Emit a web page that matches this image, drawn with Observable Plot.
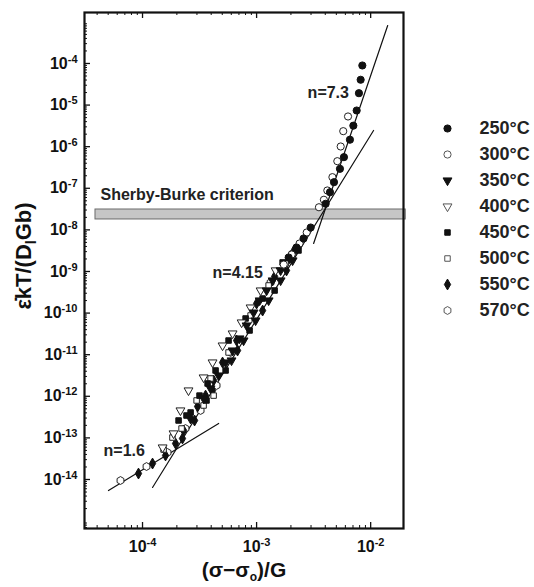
<!DOCTYPE html>
<html><head><meta charset="utf-8">
<script src="https://cdn.jsdelivr.net/npm/d3@7"></script>
<script src="https://cdn.jsdelivr.net/npm/@observablehq/plot@0.6"></script>
<style>
body{margin:0;background:#fff;}
#wrap{position:relative;width:534px;height:587px;font-family:"Liberation Sans",Arial,sans-serif;}
#main{position:absolute;left:0;top:0;}
#legend{position:absolute;left:425px;top:110px;}
</style></head><body>
<div id="wrap"><div id="main"></div><div id="legend"></div></div>
<script>
// ---------- data ----------
const temperatures = ["250°C","300°C","350°C","400°C","450°C","500°C","550°C","570°C"];

// [ (σ-σo)/G , ε̇kT/(D_l G b) ]
const s250 = [[8.45e-3,8.95e-5],[8.17e-3,4.06e-5],[7.89e-3,1.93e-5],[7.54e-3,7.4e-6],[7.05e-3,3.2e-6],
  [6.58e-3,1.47e-6],[5.83e-3,5.6e-7],[5.38e-3,2.94e-7],[4.77e-3,1.40e-7],[4.40e-3,8.05e-8],[4.03e-3,4.24e-8],
  [2.98e-3,1.14e-8],[2.58e-3,6.21e-9],[2.24e-3,3.77e-9],[1.91e-3,2.17e-9]];
const s300 = [[6.33e-3,5.32e-6],[5.75e-3,2.36e-6],[5.46e-3,1.01e-6],[5.10e-3,4.48e-7],[4.62e-3,1.85e-7],
  [4.17e-3,8.85e-8],[3.89e-3,5.3e-8],[3.52e-3,3.5e-8],[2.75e-3,8.66e-9],[2.38e-3,4.71e-9],[2.03e-3,2.56e-9],[1.73e-3,1.47e-9]];
const s350 = [[1.948e-3,2.05e-9],[1.624e-3,1.06e-9],[1.382e-3,6.08e-10],[1.224e-3,3.49e-10],[1.063e-3,2.01e-10],
  [9.41e-4,1.03e-10],[8.17e-4,5.03e-11],[7.09e-4,2.45e-11],[6.16e-4,1.26e-11],[5.35e-4,6.49e-12],[4.64e-4,3.16e-12],
  [3.95e-4,1.54e-12],[3.43e-4,8.86e-13],
  [2.069e-3,1.84e-9],[1.624e-3,6.08e-10],[1.275e-3,2.01e-10],[9.80e-4,6.64e-11],[7.69e-4,2.19e-11],[6.03e-4,7.26e-12]];
const s400 = [[1.468e-3,1.06e-9],[1.084e-3,3.49e-10],[8.86e-4,1.36e-10],[7.39e-4,5.94e-11],[6.16e-4,3.23e-11],
  [5.03e-4,1.66e-11],[4.11e-4,6.49e-12],[3.43e-4,2.83e-12],[2.53e-4,1.38e-12],[2.15e-4,4.56e-13],[1.87e-4,1.28e-13],[1.50e-4,5.88e-14]];
const s450 = [[1.691e-3,1.65e-9],[1.129e-3,2.24e-10],[8.01e-4,7.42e-11],[5.68e-4,2.19e-11],[4.37e-4,4.17e-12],
  [3.72e-4,2.03e-12],[3.16e-4,1.04e-12],[2.64e-4,4.08e-13],[2.43e-4,3.45e-13],[2.07e-4,2.62e-13],
  [2.33e-3,3.20e-9],[1.439e-3,3.49e-10],[8.68e-4,3.82e-11],[5.35e-4,4.17e-12],[3.64e-4,7.93e-13]];
const s500 = [[1.797e-3,1.56e-9],[1.275e-3,4.61e-10],[8.86e-4,8.76e-11],[5.68e-4,1.13e-11],[3.95e-4,2.68e-12],
  [4.20e-4,1.04e-12],[3.43e-4,6.01e-13],[2.98e-4,7.93e-13],[2.20e-4,1.68e-13],[1.83e-4,1.02e-13],[1.53e-4,5.26e-14]];
const s550 = [[9.22e-5,1.39e-14],[1.224e-4,2.42e-14],[1.591e-4,3.78e-14],[1.948e-4,7.33e-14],[2.29e-4,1.51e-13],
  [2.64e-4,2.92e-13],[3.04e-4,5.69e-13],[3.57e-4,1.04e-12],[4.20e-4,2.40e-12],[5.03e-4,6.49e-12],[6.68e-4,2.19e-11],
  [1.0e-3,1.70e-10],[1.439e-3,7.58e-10],[2.154e-3,3.38e-9],
  [1.83e-3,1.06e-9],[1.129e-3,1.15e-10],[6.81e-4,1.26e-11],[4.11e-4,1.38e-12],[2.86e-4,2.62e-13],[2.24e-4,9.68e-14]];
const s570 = [[6.41e-5,9.46e-15],[1.084e-4,2.05e-14],[1.657e-4,4.46e-14],[2.38e-4,1.68e-13],[3.23e-4,4.56e-13],
  [4.46e-4,1.82e-12],[5.92e-4,1.13e-11],[8.51e-4,6.64e-11],[1.327e-3,5.44e-10],[2.069e-3,2.71e-9]];
const seriesData = [s250, s300, s350, s400, s450, s500, s550, s570];

// power-law fit lines (end points)
const fitN16  = [[5.03e-5,5.44e-15],[4.65e-4,2.22e-13]];
const fitN415 = [[1.224e-4,6.43e-15],[1.06e-2,2.45e-6]];
const fitN73  = [[3.16e-3,4.71e-9],[1.41e-2,8.18e-4]];

// Sherby-Burke criterion band
const sherbyBand = [{x1:3.87e-5, x2:2.03e-2, y1:1.78e-8, y2:3.09e-8}];

const annotations = [
  {label:"n=7.3", x:2.80e-3, y:2.01e-5},
  {label:"n=4.15", x:4.11e-4, y:9.46e-10},
  {label:"n=1.6", x:4.55e-5, y:4.98e-14},
  {label:"Sherby-Burke criterion", x:4.28e-5, y:7.10e-8}
];

const xMajorTicks = [1e-4, 1e-3, 1e-2];
const xTickLabels = ["10^-4","10^-3","10^-2"];
const yMajorTicks = [1e-4,1e-5,1e-6,1e-7,1e-8,1e-9,1e-10,1e-11,1e-12,1e-13,1e-14];
const yTickLabels = ["10^-4","10^-5","10^-6","10^-7","10^-8","10^-9","10^-10","10^-11","10^-12","10^-13","10^-14"];

// ---------- styles ----------
const markerStyles = [
  {symbol:"circle",   fill:"#111", stroke:"#111", r:3.6, rotate:0},
  {symbol:"circle",   fill:"#fff", stroke:"#222", r:3.6, rotate:0},
  {symbol:"triangle", fill:"#111", stroke:"#111", r:3.3, rotate:180},
  {symbol:"triangle", fill:"#fff", stroke:"#222", r:3.3, rotate:180},
  {symbol:"square",   fill:"#111", stroke:"#111", r:3.1, rotate:0},
  {symbol:"square",   fill:"#fff", stroke:"#222", r:3.1, rotate:0},
  {symbol:"diamond",  fill:"#111", stroke:"#111", r:3.3, rotate:0},
  {symbol:"hexagon",  fill:"#fff", stroke:"#222", r:3.4, rotate:0}
];

const W = 534, H = 587, mL = 84, mR = 131, mT = 12, mB = 59;
const innerW = W - mL - mR, innerH = H - mT - mB;
const xDomain = [3.10e-5, 1.94e-2];
const yDomain = [6.64e-16, 1.68e-3];

// minor tick positions (structural, per decade)
const xMinor = [], yMinor = [];
for (let k = -5; k <= -2; k++) for (let m = 2; m <= 9; m++) {
  const v = m * Math.pow(10, k); if (v > xDomain[0] && v < xDomain[1]) xMinor.push(v);
}
for (let k = -16; k <= -3; k++) for (let m = 2; m <= 9; m++) {
  const v = m * Math.pow(10, k); if (v > yDomain[0] && v < yDomain[1]) yMinor.push(v);
}

const dotMarks = [];
for (let i = seriesData.length - 1; i >= 0; i--) {
  const st = markerStyles[i];
  dotMarks.push(Plot.dot(seriesData[i], {x: d => d[0], y: d => d[1], symbol: st.symbol,
    fill: st.fill, stroke: st.stroke, r: st.r, rotate: st.rotate, strokeWidth: 1}));
}

const fontFam = "'Liberation Sans', Arial, Helvetica, sans-serif";
const chart = Plot.plot({
  width: W, height: H,
  marginLeft: mL, marginRight: mR, marginTop: mT, marginBottom: mB,
  style: {fontFamily: fontFam, background: "#fff", color: "#111"},
  x: {type: "log", domain: xDomain, axis: null},
  y: {type: "log", domain: yDomain, axis: null},
  marks: [
    Plot.rect(sherbyBand, {x1: "x1", x2: "x2", y1: "y1", y2: "y2", fill: "#c6c6c6", stroke: "#6a6a6a", strokeWidth: 1}),
    Plot.line(fitN16,  {x: d => d[0], y: d => d[1], stroke: "#111", strokeWidth: 1.2}),
    Plot.line(fitN415, {x: d => d[0], y: d => d[1], stroke: "#111", strokeWidth: 1.2}),
    Plot.line(fitN73,  {x: d => d[0], y: d => d[1], stroke: "#111", strokeWidth: 1.2}),
    ...dotMarks,
    // ticks (inward)
    Plot.tickX(xMajorTicks, {x: d => d, insetTop: innerH - 6, stroke: "#111", strokeWidth: 1.3}),
    Plot.tickX(xMinor, {x: d => d, insetTop: innerH - 3, stroke: "#111", strokeWidth: 1}),
    Plot.tickX(xMajorTicks, {x: d => d, insetBottom: innerH - 6, stroke: "#111", strokeWidth: 1.3}),
    Plot.tickX(xMinor, {x: d => d, insetBottom: innerH - 3, stroke: "#111", strokeWidth: 1}),
    Plot.tickY(yMajorTicks, {y: d => d, insetRight: innerW - 6, stroke: "#111", strokeWidth: 1.3}),
    Plot.tickY(yMinor, {y: d => d, insetRight: innerW - 3, stroke: "#111", strokeWidth: 1}),
    Plot.frame({stroke: "#111", strokeWidth: 2.2}),
    // tick labels
    Plot.text(xMajorTicks, {x: d => d, frameAnchor: "bottom", dy: 23, text: (d, i) => xTickLabels[i],
      fontSize: 16, fontWeight: "bold", fill: "#111"}),
    Plot.text(yMajorTicks, {y: d => d, frameAnchor: "left", dx: -7, textAnchor: "end", text: (d, i) => yTickLabels[i],
      fontSize: 16, fontWeight: "bold", fill: "#111"}),
    // annotations
    Plot.text(annotations, {x: "x", y: "y", text: "label", textAnchor: "start", fontSize: 16, fontWeight: "bold", fill: "#222"})
  ]
});

// superscripts in tick labels
const NS = "http://www.w3.org/2000/svg";
chart.querySelectorAll("text").forEach(t => {
  const m = /^(\d+)\^(.+)$/.exec(t.textContent);
  if (m) {
    t.textContent = m[1];
    const ts = document.createElementNS(NS, "tspan");
    ts.setAttribute("dy", "-6");
    ts.setAttribute("font-size", "11");
    ts.textContent = m[2];
    t.appendChild(ts);
  }
});

// axis titles
const svg = d3.select(chart);
const yt = svg.append("text").attr("transform", "translate(31,256) rotate(-90)")
  .attr("text-anchor", "middle").attr("font-size", 22).attr("font-weight", "bold")
  .attr("fill", "#111").attr("font-family", fontFam);
yt.append("tspan").text("ε̇kT/(D");
yt.append("tspan").attr("dy", 5).attr("font-size", 14).text("l");
yt.append("tspan").attr("dy", -5).text("Gb)");

const xt = svg.append("text").attr("x", 244).attr("y", 577)
  .attr("text-anchor", "middle").attr("font-size", 21).attr("font-weight", "bold")
  .attr("fill", "#111").attr("font-family", fontFam);
xt.append("tspan").text("(σ−σ");
xt.append("tspan").attr("dy", 4).attr("font-size", 12).text("o");
xt.append("tspan").attr("dy", -4).text(")/G");

document.getElementById("main").appendChild(chart);

// ---------- legend ----------
const legendMarks = [];
temperatures.forEach((t, i) => {
  const st = markerStyles[i];
  legendMarks.push(Plot.dot([t], {x: () => 0, y: d => d, symbol: st.symbol, fill: st.fill,
    stroke: i % 2 ? "#555" : st.stroke, r: st.r, rotate: st.rotate, strokeWidth: 1}));
});
legendMarks.push(Plot.text(temperatures, {x: () => 1, y: d => d, text: d => d, textAnchor: "start",
  fontSize: 18, fontWeight: "bold", fill: "#222"}));
const legend = Plot.plot({
  width: 109, height: 220, margin: 0,
  style: {fontFamily: fontFam, background: "transparent"},
  x: {domain: [0, 1], range: [22, 54], axis: null},
  y: {type: "point", domain: temperatures, range: [17, 201], padding: 0, axis: null},
  marks: legendMarks
});
document.getElementById("legend").appendChild(legend);
</script>
</body></html>
